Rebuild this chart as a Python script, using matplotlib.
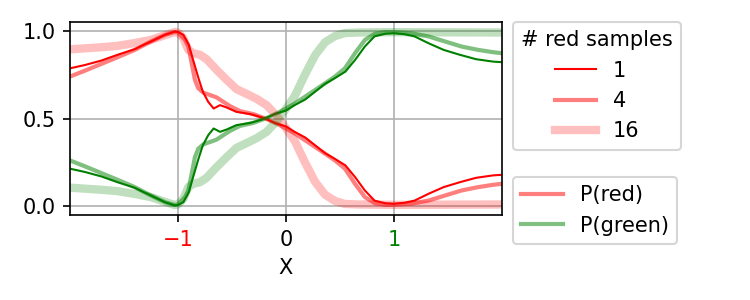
import matplotlib
matplotlib.use("Agg")
import matplotlib.pyplot as plt
from matplotlib.lines import Line2D
import numpy as np

# P(red) for each number of red samples; P(green) = 1 - P(red)
x_1 = [-2.0, -1.86, -1.71, -1.56, -1.40, -1.25, -1.12, -1.03, -1.0, -0.95,
       -0.90, -0.86, -0.81, -0.77, -0.72, -0.67, -0.61, -0.55, -0.46, -0.33,
       -0.21, -0.09, 0.0, 0.08, 0.18, 0.27, 0.36, 0.45, 0.55, 0.64,
       0.73, 0.82, 0.92, 1.0, 1.10, 1.19, 1.32, 1.46, 1.61, 1.76,
       1.92, 2.0]
p_red_1 = [0.786, 0.805, 0.830, 0.863, 0.895, 0.939, 0.977, 0.995, 0.993, 0.977,
           0.920, 0.834, 0.729, 0.653, 0.595, 0.557, 0.576, 0.563, 0.538, 0.525,
           0.504, 0.471, 0.455, 0.424, 0.391, 0.347, 0.303, 0.271, 0.233, 0.166,
           0.090, 0.032, 0.017, 0.014, 0.020, 0.032, 0.071, 0.109, 0.137, 0.162,
           0.176, 0.179]

x_4 = [-2.0, -1.86, -1.71, -1.56, -1.40, -1.25, -1.12, -1.03, -1.0, -0.935,
       -0.904, -0.873, -0.843, -0.812, -0.765, -0.704, -0.642, -0.58, -0.519, -0.426,
       -0.302, -0.179, -0.056, 0.0, 0.083, 0.176, 0.269, 0.361, 0.454, 0.546,
       0.639, 0.731, 0.824, 0.917, 1.0, 1.164, 1.318, 1.472, 1.627, 1.78,
       1.917, 2.0]
p_red_4 = [0.739, 0.773, 0.811, 0.849, 0.891, 0.939, 0.977, 0.993, 0.99, 0.948,
           0.910, 0.815, 0.720, 0.672, 0.647, 0.634, 0.620, 0.595, 0.571, 0.542,
           0.525, 0.497, 0.462, 0.443, 0.414, 0.376, 0.338, 0.300, 0.261, 0.214,
           0.128, 0.052, 0.017, 0.008, 0.008, 0.015, 0.032, 0.061, 0.090, 0.109,
           0.122, 0.128]

x_16 = [-2.0, -1.86, -1.71, -1.56, -1.40, -1.25, -1.12, -1.03, -1.0, -0.951,
        -0.904, -0.858, -0.796, -0.735, -0.642, -0.549, -0.457, -0.364, -0.272, -0.179,
        -0.086, 0.0, 0.083, 0.176, 0.269, 0.361, 0.454, 0.546, 0.67, 1.0,
        1.5, 2.0]
p_red_16 = [0.894, 0.900, 0.906, 0.914, 0.930, 0.948, 0.975, 0.993, 0.99, 0.958,
            0.891, 0.872, 0.863, 0.838, 0.777, 0.720, 0.667, 0.640, 0.612, 0.576,
            0.515, 0.445, 0.370, 0.250, 0.140, 0.066, 0.030, 0.013, 0.010, 0.008,
            0.009, 0.010]

n_samples = ["1", "4", "16"]
xtick_vals = [-1, 0, 1]
ytick_vals = [0.0, 0.5, 1.0]

series = [(x_1, p_red_1, 1, 1.0),
          (x_4, p_red_4, 2, 0.5),
          (x_16, p_red_16, 4, 0.25)]

fig = plt.figure(figsize=(5, 2), dpi=150)
ax = fig.add_axes([0.0933, 0.2833, 0.576, 0.6434])

red_handles = []
for (xs, pr, lw, a), lab in zip(series, n_samples):
    xs = np.asarray(xs)
    pr = np.asarray(pr)
    h, = ax.plot(xs, pr, color="red", lw=lw, alpha=a, label=lab)
    ax.plot(xs, 1 - pr, color="green", lw=lw, alpha=a)
    red_handles.append(h)

ax.set_xlim(-2, 2)
ax.set_ylim(-0.05, 1.05)
ax.set_xticks(xtick_vals)
ax.set_yticks(ytick_vals)
ax.grid(True)
ax.set_xlabel("X")
labs = ax.get_xticklabels()
labs[0].set_color("red")
labs[2].set_color("green")

leg1 = fig.legend(handles=red_handles, title="# red samples",
                  loc="upper left", bbox_to_anchor=(0.684, 0.927),
                  borderaxespad=0)
prob_handles = [Line2D([], [], color="red", lw=2, alpha=0.5, label="P(red)"),
                Line2D([], [], color="green", lw=2, alpha=0.5, label="P(green)")]
fig.legend(handles=prob_handles, loc="upper left",
           bbox_to_anchor=(0.684, 0.41), borderaxespad=0)

fig.savefig("out.png", dpi=150)
